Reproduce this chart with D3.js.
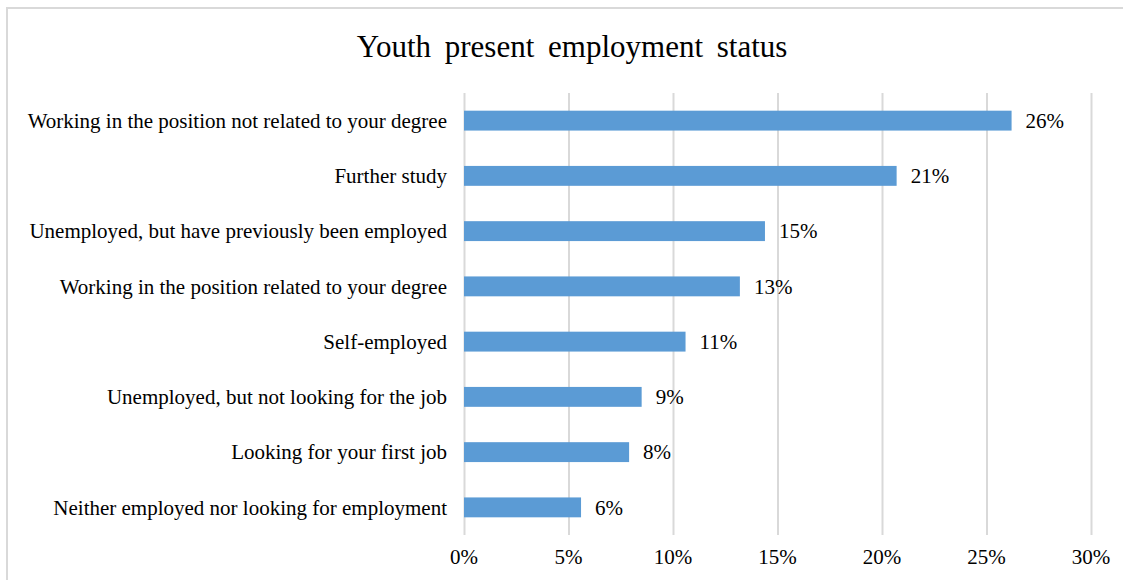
<!DOCTYPE html>
<html>
<head>
<meta charset="utf-8">
<script src="https://d3js.org/d3.v7.min.js"></script>
<style>
  body { margin: 0; background: #fff; }
  svg { display: block; }
  text { font-family: "Liberation Serif", "Times New Roman", serif; fill: #000; }
  .grid line { stroke: #d9d9d9; stroke-width: 2; }
  .grid .domain { stroke: none; }
</style>
</head>
<body>
<script>
// chart data, top to bottom
const categories = [
  "Working in the position not related to your degree",
  "Further study",
  "Unemployed, but have previously been employed",
  "Working in the position related to your degree",
  "Self-employed",
  "Unemployed, but not looking for the job",
  "Looking for your first job",
  "Neither employed nor looking for employment"
];
const shares = [0.262, 0.207, 0.144, 0.132, 0.106, 0.085, 0.079, 0.056];
const shareLabels = ["26%", "21%", "15%", "13%", "11%", "9%", "8%", "6%"];
const xTicks = [0, 0.05, 0.10, 0.15, 0.20, 0.25, 0.30];

const width = 1123, height = 580;
const margin = {top: 93, right: 32, bottom: 45, left: 464};

const svg = d3.select("body").append("svg")
    .attr("width", width)
    .attr("height", height);

// outer chart frame (only top/left visible in the crop)
svg.append("rect")
    .attr("x", 7).attr("y", 8)
    .attr("width", width).attr("height", height)
    .attr("fill", "none")
    .attr("stroke", "#d9d9d9")
    .attr("stroke-width", 2);

svg.append("text")
    .attr("x", 572)
    .attr("y", 57)
    .attr("text-anchor", "middle")
    .style("font-size", "31px")
    .style("word-spacing", "6px")
    .text("Youth present employment status");

const xScale = d3.scaleLinear()
    .domain([0, 0.30])
    .range([margin.left, 1091]);

const yScale = d3.scaleBand()
    .domain(categories)
    .range([margin.top, height - margin.bottom])
    .paddingInner(0.64)
    .paddingOuter(0.32);

// vertical gridlines
svg.append("g")
    .attr("class", "grid")
    .attr("transform", `translate(0,${margin.top})`)
    .call(d3.axisBottom(xScale)
      .tickValues(xTicks)
      .tickSize(height - margin.bottom - margin.top)
      .tickFormat(""));

// x tick labels
svg.append("g")
    .selectAll("text")
    .data(xTicks)
  .enter().append("text")
    .attr("x", d => xScale(d))
    .attr("y", 564)
    .attr("text-anchor", "middle")
    .style("font-size", "21px")
    .text(d3.format(".0%"));

// category labels
svg.append("g")
    .selectAll("text")
    .data(categories)
  .enter().append("text")
    .attr("x", 447)
    .attr("y", d => yScale(d) + yScale.bandwidth() / 2)
    .attr("dy", "0.35em")
    .attr("text-anchor", "end")
    .style("font-size", "21px")
    .text(d => d);

// bars
svg.append("g")
    .selectAll("rect")
    .data(shares)
  .enter().append("rect")
    .attr("x", xScale(0))
    .attr("y", (d, i) => yScale(categories[i]))
    .attr("width", d => xScale(d) - xScale(0))
    .attr("height", yScale.bandwidth())
    .attr("fill", "#5b9bd5");

// value labels
svg.append("g")
    .selectAll("text")
    .data(shares)
  .enter().append("text")
    .attr("x", d => xScale(d) + 14)
    .attr("y", (d, i) => yScale(categories[i]) + yScale.bandwidth() / 2)
    .attr("dy", "0.35em")
    .style("font-size", "21px")
    .text((d, i) => shareLabels[i]);
</script>
</body>
</html>
